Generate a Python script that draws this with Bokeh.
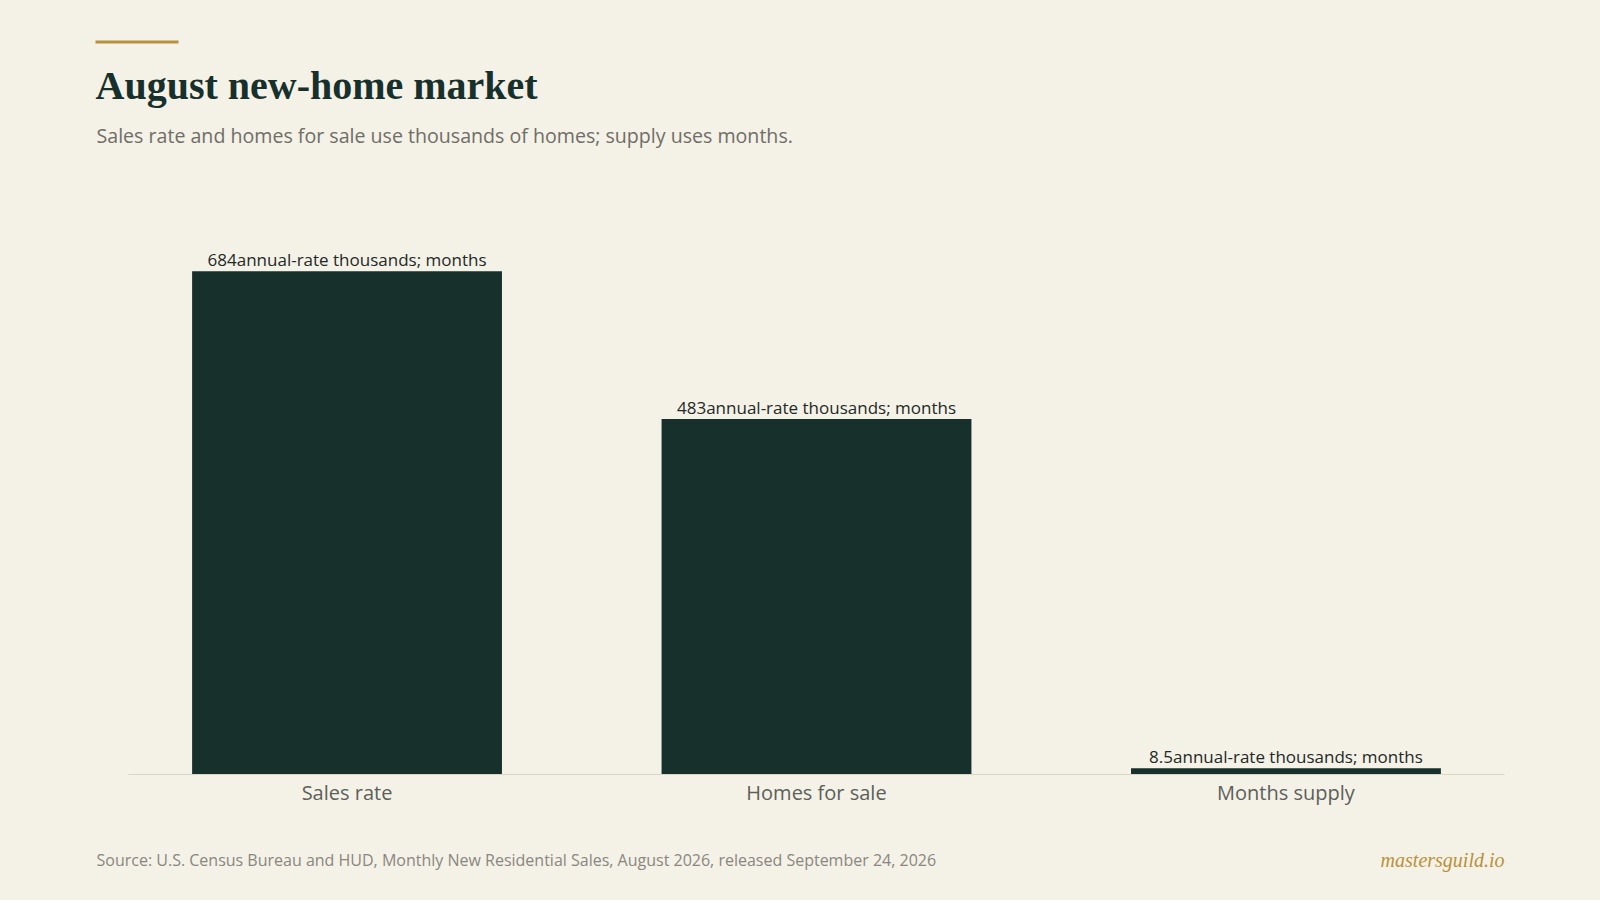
from bokeh.plotting import figure
from bokeh.models import FactorRange, Range1d, ColumnDataSource
from bokeh.core.properties import value
from bokeh.embed import file_html
from bokeh.resources import INLINE

# data
categories = ["Sales rate", "Homes for sale", "Months supply"]
values = [684, 483, 8.5]
unit_text = "annual-rate thousands; months"

title_text = "August new-home market"
subtitle_text = "Sales rate and homes for sale use thousands of homes; supply uses months."
source_text = "Source: U.S. Census Bureau and HUD, Monthly New Residential Sales, August 2026, released September 24, 2026"
brand_text = "mastersguild.io"

BG = "#f4f1e7"
DARK = "#17302b"
GOLD = "#b8923a"
SANS = "Open Sans"
SERIF = "Liberation Serif"
W = 1600

#-------------------------------------------------------------------------------

def blank_strip(height):
    # a plain pixel-mapped figure for the header and footer texts
    s = figure(width=W, height=height, x_range=Range1d(0, W), y_range=Range1d(height, 0),
               x_axis_location=None, y_axis_location=None, title=None,
               output_backend="svg", toolbar_location=None,
               min_border=0, min_border_left=0, min_border_right=0,
               min_border_top=0, min_border_bottom=0)
    s.background_fill_color = None
    s.border_fill_color = BG
    s.outline_line_color = None
    s.grid.grid_line_color = None
    return s


def header():
    h = blank_strip(170)
    h.quad(left=[95], right=[178], top=[40], bottom=[43], fill_color=GOLD, line_color=None)
    h.text(x=[95], y=[85], text=[title_text], text_font=value(SERIF), text_font_style="bold",
           text_font_size="40px", text_color=DARK, text_baseline="alphabetic")
    h.text(x=[96], y=[135], text=[subtitle_text], text_font=value(SANS),
           text_font_size="19.6px", text_color="#6e6e66", text_baseline="alphabetic")
    return h


def chart():
    labels = [f"{v:g}{unit_text}" for v in values]
    src = ColumnDataSource(data=dict(cat=categories, val=values, lab=labels))

    p = figure(width=W, height=670,
               x_range=FactorRange(factors=categories, range_padding=-0.023),
               y_range=Range1d(0, 780),
               y_axis_location=None, title=None,
               output_backend="svg", toolbar_location=None,
               min_border_left=128, min_border_right=96,
               min_border_top=30, min_border_bottom=66)

    p.background_fill_color = None
    p.border_fill_color = BG
    p.outline_line_color = None
    p.xgrid.grid_line_color = None
    p.ygrid.grid_line_color = None

    p.vbar(x="cat", top="val", width=0.66, source=src, fill_color=DARK, line_color=None)
    p.text(x="cat", y="val", text="lab", source=src, text_align="center",
           text_baseline="alphabetic", y_offset=-12, text_font=value(SANS),
           text_font_size="17px", text_color="#1e2a26")

    ax = p.xaxis[0]
    ax.axis_line_color = "#d9d5c9"
    ax.axis_line_width = 1
    ax.major_tick_line_color = None
    ax.minor_tick_line_color = None
    ax.major_label_text_font = SANS
    ax.major_label_text_font_size = "20px"
    ax.major_label_text_color = "#5c5f5a"
    ax.major_label_standoff = -2
    return p


def footer():
    f = blank_strip(60)
    f.text(x=[96], y=[19], text=[source_text], text_font=value(SANS),
           text_font_size="16px", text_color="#8a8680", text_baseline="alphabetic")
    f.text(x=[1504], y=[19], text=[brand_text], text_font=value(SERIF),
           text_font_style="italic", text_font_size="20px", text_color=GOLD,
           text_align="right", text_baseline="alphabetic")
    return f


def main():
    html = file_html([header(), chart(), footer()], INLINE)
    html = html.replace("</head>", "<style>html, body { background: %s; }</style></head>" % BG, 1)
    open("out.html", "w").write(html)


if __name__ == "__main__":
    main()
